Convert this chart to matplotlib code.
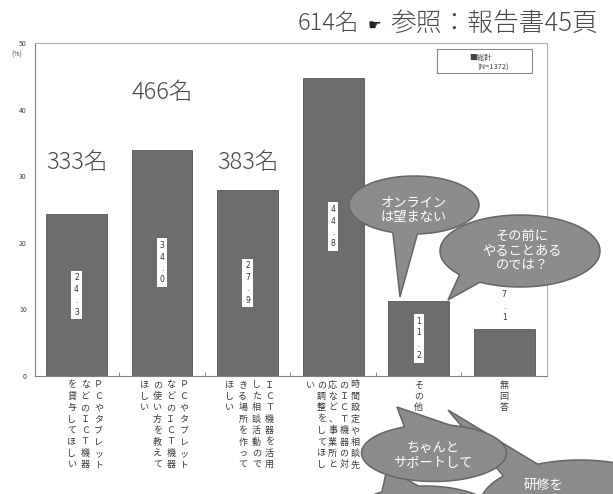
import numpy as np
import matplotlib.pyplot as plt
from matplotlib.path import Path
from matplotlib.patches import PathPatch, Rectangle
from matplotlib.transforms import offset_copy

plt.rcParams['font.family'] = ['Noto Sans CJK JP', 'DejaVu Sans']

# survey answers (multiple choice), N = 1372
categories = [
    'ＰＣやタブレットなどのＩＣＴ機器を貸与してほしい',
    'ＰＣやタブレットなどのＩＣＴ機器の使い方を教えてほしい',
    'ＩＣＴ機器を活用した相談活動のできる場所を作ってほしい',
    '時間設定や相談先のＩＣＴ機器の対応など、事業所との調整をしてほしい',
    'その他',
    '無回答',
]
percent = [24.3, 34.0, 27.9, 44.8, 11.2, 7.1]
counts = [333, 466, 383, 614]
n_total = 1372
yticks = [0, 10, 20, 30, 40, 50]

W, H = 613, 494
fig = plt.figure(figsize=(W / 100, H / 100), dpi=100)
ax = fig.add_axes([35 / W, 1 - 376 / H, 512 / W, 333 / H])

x = np.arange(len(categories))
ax.bar(x, percent, width=0.71, color='#6d6d6d', edgecolor='#555555',
       linewidth=0.6, zorder=2)
ax.set_xlim(-0.485, 5.5)
ax.set_ylim(0, 50)
ax.set_yticks(yticks)
ax.tick_params(axis='y', length=0, pad=6, labelsize=5, labelcolor='#444444')
ax.set_xticks([])
ax.set_xticks(x[:-1] + 0.5, minor=True)
ax.tick_params(axis='x', which='minor', direction='in', length=3,
               color='#777777', labelbottom=False)
for s in ax.spines.values():
    s.set_color('#808080')
    s.set_linewidth(0.8)
ax.spines['top'].set_color('#b0b0b0')
ax.spines['right'].set_color('#b0b0b0')
ax.text(-0.035, 0.964, '(%)', transform=ax.transAxes, fontsize=5,
        ha='center', va='center', color='#444444')

# value labels written vertically inside the bars
for xi, v in zip(x, percent):
    y = v / 2 if v > 10 else v + 3.4
    ax.text(xi, y, '\n'.join(f'{v:.1f}'), ha='center', va='center',
            fontsize=5.5, family='DejaVu Sans', color='#333333',
            linespacing=1.35, zorder=3,
            bbox=dict(boxstyle='square,pad=0.35', fc='white', ec='none'))

# category labels in vertical columns, read right to left
for xi, lab in zip(x, categories):
    cols = [lab[k:k + 8] for k in range(0, len(lab), 8)]
    n = len(cols)
    step = min(13.3, 45 / (n - 1)) if n > 1 else 0
    right = 22 if n > 1 else 0
    for j, col in enumerate(cols):
        for r, ch in enumerate(col):
            tr = offset_copy(ax.get_xaxis_transform(), fig=fig,
                             x=right - j * step, y=-(9 + r * 11.4), units='dots')
            ax.text(xi, 0, ch, transform=tr, ha='center', va='center',
                    fontsize=6.5, color='#3a3a3a', clip_on=False)

# legend box
ax.add_patch(Rectangle((0.785, 0.91), 0.1855, 0.072, transform=ax.transAxes,
                       fill=False, ec='#888888', lw=0.8))
ax.text(0.871, 0.955, '■総計', transform=ax.transAxes, fontsize=5.5,
        ha='center', va='center', color='#444444')
ax.text(0.895, 0.925, f'(N={n_total})', transform=ax.transAxes, fontsize=5.5,
        ha='center', va='center', color='#444444')

# respondent counts over the first four bars
count_y = [32.1, 42.6, 32.1, 52.9]
count_dx = [0, 0, 0, -0.06]
for xi, c, cy, dx in zip(x, counts, count_y, count_dx):
    ax.text(xi + dx, cy, f'{c}名', ha='center', va='center', fontsize=17,
            fontweight='light', color='#4a4a4a', clip_on=False, zorder=4)

# overlay in pixel units for the header and the speech bubbles
ov = fig.add_axes([0, 0, 1, 1], zorder=5)
ov.set_xlim(0, W)
ov.set_ylim(H, 0)
ov.axis('off')
ov.patch.set_alpha(0)

ov.text(375, 25, '☛', fontsize=11, family=['DejaVu Sans'], ha='center',
        va='center', color='#222222')
ov.text(598, 24, '参照：報告書45頁', fontsize=18.5, fontweight='light',
        ha='right', va='center', color='#4a4a4a')


def bubble(cx, cy, w, h, a1, a2, tip, text=None, tpos=None, fs=9.5):
    t = np.radians(np.linspace(a2, a1 + 360, 160))
    xs = cx + w / 2 * np.cos(t)
    ys = cy + h / 2 * np.sin(t)
    verts = list(zip(xs, ys)) + [tip, (xs[0], ys[0])]
    ov.add_patch(PathPatch(Path(verts), fc='#8c8c8c', ec='#666666', lw=1.1))
    if text:
        tx, ty = tpos if tpos else (cx, cy)
        ov.text(tx, ty, text, ha='center', va='center', fontsize=fs,
                color='white', linespacing=1.15)


bubble(425, 518, 150, 64, -125, -95, (387, 468))
bubble(580, 505, 200, 90, -140, -115, (448, 410), '研修を', (543, 485))
bubble(434, 453, 145, 57, -114, -77, (397, 407), 'ちゃんと\nサポートして', (433, 456))
bubble(414, 205, 130, 58, 87, 109, (400, 297), 'オンライン\nは望まない', (414, 210))
bubble(520, 251, 160, 72, 120, 139, (448, 300), 'その前に\nやることある\nのでは？', (522, 251))

fig.savefig('out.png', dpi=100)
